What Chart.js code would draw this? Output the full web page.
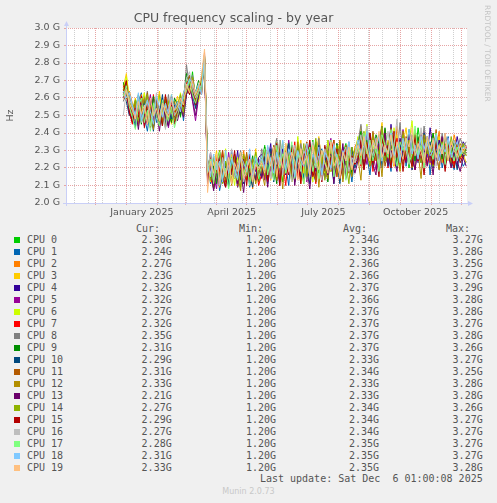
<!DOCTYPE html>
<html>
<head>
<meta charset="utf-8">
<title>CPU frequency scaling - by year</title>
<script src="https://cdn.jsdelivr.net/npm/chart.js@4.4.1/dist/chart.umd.min.js"></script>
<style>
  body { margin: 0; background: #f0f0f0; width: 497px; height: 503px; overflow: hidden; position: relative; color: #555; }
  #chart { position: absolute; left: 0; top: 0; }
  .t { position: absolute; font-family: "DejaVu Sans Mono", monospace; font-size: 10px; line-height: 12px; white-space: pre; }
  .r { text-align: right; }
  .sw { position: absolute; width: 6px; height: 6px; }
  #rrd { position: absolute; left: 482px; top: 5px; writing-mode: vertical-rl; font-family: "DejaVu Sans", sans-serif; font-size: 7.5px; line-height: 10px; color: #c4c4c4; white-space: nowrap; }
  #munin { position: absolute; left: 0; width: 497px; top: 487px; text-align: center; font-family: "DejaVu Sans", sans-serif; font-size: 8px; line-height: 10px; color: #c8c8c8; }
</style>
</head>
<body>
<canvas id="chart" width="497" height="222" style="width:497px;height:222px"></canvas>
<div id="legend"></div>
<div id="rrd">RRDTOOL / TOBI OETIKER</div>
<div id="munin">Munin 2.0.73</div>
<script>
// days counted from 1 Jan 2025, one sample every 3 days from 29 Dec 2024
let startDay = -3;
let stepDays = 3;

// values in 10 MHz steps (252 = 2.52 GHz)
const cpu0 = [265,268,258,248,255,261,246,252,259,243,250,257,262,247,253,244,256,251,258,249,262,270,262,275,259,266,271,284,214,225,208,221,230,216,211,224,219,227,209,218,226,213,222,217,229,212,221,233,218,226,215,230,224,212,228,235,220,217,231,225,214,229,222,236,219,227,216,232,224,218,230,226,213,228,234,221,225,231,228,239,224,233,221,236,230,219,241,227,234,222,238,229,225,240,232,220,235,227,243,231,224,237,229,221,236,233,226,240,228,222,235,230,226,233,230];
const cpu1 = [262,270,255,251,244,258,263,249,241,255,260,246,252,257,243,250,261,248,253,260,247,264,273,261,255,262,268,281,222,211,219,228,207,216,224,213,230,218,210,223,215,227,209,220,214,225,216,227,211,224,232,219,213,228,221,210,233,225,217,229,214,222,235,218,212,226,231,215,223,228,211,234,220,216,229,224,212,227,233,222,238,227,216,231,225,239,220,234,228,218,236,224,230,241,221,233,226,219,237,229,223,238,216,232,227,235,220,229,238,224,219,233,227,221,224];
const cpu2 = [268,261,264,257,249,253,262,245,256,250,243,259,254,247,261,252,246,258,250,257,263,262,270,267,264,258,272,285,218,226,213,221,209,228,217,223,211,225,219,214,230,216,222,208,227,220,225,214,231,220,227,213,236,222,218,229,215,232,226,211,224,233,219,228,214,237,223,217,230,221,226,215,234,220,229,224,218,232,236,225,231,242,228,220,237,233,224,239,227,230,221,244,232,226,235,229,238,222,234,240,227,231,225,236,229,241,223,234,230,226,239,232,227,231,227];
const cpu3 = [266,274,259,252,260,247,255,263,249,244,257,251,264,248,254,259,245,253,261,252,258,268,263,271,260,267,263,282,224,213,220,230,215,226,210,219,228,214,223,217,211,226,221,215,231,218,219,230,224,213,232,221,227,216,234,225,212,229,222,236,217,231,226,214,228,238,220,224,233,218,227,222,235,216,230,225,221,229,231,244,226,235,222,238,229,233,246,224,236,230,221,239,227,234,243,228,223,237,231,226,240,233,222,236,229,238,225,232,227,235,221,230,226,228,223];
const cpu4 = [263,267,256,250,258,245,254,261,247,252,243,256,249,260,244,255,250,246,257,251,260,266,272,264,257,264,269,283,217,229,212,222,214,227,219,210,225,216,230,213,221,227,211,224,218,226,228,217,223,234,214,226,221,231,216,229,224,212,235,220,227,218,232,223,215,230,226,219,236,222,214,228,233,217,225,230,220,227,229,238,224,242,231,226,236,222,240,233,227,245,229,221,237,232,225,241,228,234,223,239,230,226,243,231,224,236,229,240,226,233,227,238,229,235,232];
const cpu5 = [260,265,252,247,255,249,258,244,253,262,248,251,245,257,250,243,255,249,252,259,254,263,269,258,247,260,266,280,211,223,216,208,226,219,213,229,217,222,209,225,214,220,228,212,223,216,222,213,229,218,233,224,210,227,221,236,215,230,224,217,228,212,234,222,219,231,226,214,229,237,220,225,216,232,223,218,230,224,226,237,231,222,240,228,219,235,244,224,232,227,238,221,230,242,226,234,219,237,229,225,241,232,223,236,228,219,234,230,237,224,228,221,233,226,232];
const cpu6 = [264,272,260,254,248,259,252,263,246,256,250,261,244,253,258,249,262,251,255,263,250,265,271,268,262,258,270,284,220,212,227,215,224,218,231,213,222,210,226,219,214,228,216,223,211,221,224,231,216,228,220,235,213,226,232,219,227,214,238,223,218,230,225,212,233,221,228,217,236,224,215,229,234,220,226,231,218,228,238,227,233,245,224,231,236,222,240,229,234,226,243,232,220,237,228,235,247,225,231,238,223,234,229,240,226,232,237,221,235,228,230,225,233,229,227];
const cpu7 = [267,263,253,245,257,251,260,248,255,243,262,250,246,258,253,247,261,254,249,256,262,269,264,272,258,265,262,286,223,214,209,226,218,230,212,221,216,228,211,224,219,213,227,215,222,210,217,226,212,230,221,215,233,224,210,228,219,235,214,226,222,231,216,227,211,234,220,225,213,229,236,218,223,214,231,226,219,224,230,221,239,227,234,218,236,225,231,242,220,233,228,237,223,230,224,241,226,219,235,229,238,222,232,226,240,224,231,220,236,227,222,234,225,229,232];
const cpu8 = [258,266,262,253,246,260,249,255,264,247,252,258,244,256,250,262,248,257,254,261,256,279,266,273,261,268,265,283,216,227,220,213,229,218,224,211,226,215,221,230,214,219,225,212,228,217,231,220,226,214,229,237,218,225,222,232,215,227,220,234,224,213,230,226,219,237,221,228,216,233,225,220,231,214,227,235,222,226,234,245,229,237,223,240,232,226,243,230,221,238,233,227,246,224,235,230,239,222,234,228,244,231,225,237,232,226,240,229,233,223,236,230,237,232,235];
const cpu9 = [269,262,257,256,250,262,245,258,253,247,261,249,255,244,259,252,246,260,256,250,259,274,268,262,263,270,266,282,225,214,221,211,228,217,223,209,226,220,215,229,212,224,218,227,213,222,220,232,215,228,223,211,236,224,218,230,226,213,233,219,227,216,231,222,235,217,228,224,212,230,221,234,218,226,223,232,216,227,232,241,226,236,229,222,239,234,225,243,228,231,237,221,235,230,227,242,233,224,238,229,222,236,231,240,227,233,225,238,230,228,236,224,231,228,231];
const cpu10 = [261,258,250,249,243,256,251,259,246,254,241,257,250,262,245,253,248,256,251,258,253,262,270,265,254,261,268,280,213,222,208,219,227,215,221,210,225,214,219,228,211,223,216,209,226,218,215,226,219,231,212,224,229,217,222,234,213,227,220,215,230,223,211,228,219,233,214,226,221,230,216,224,211,229,222,218,232,220,226,235,221,230,239,224,233,218,236,227,222,241,229,220,234,225,231,238,219,232,227,223,240,228,235,220,230,226,237,221,233,225,229,219,232,226,229];
const cpu11 = [265,260,256,252,258,246,255,250,263,248,253,259,245,256,251,247,260,252,258,253,261,267,273,262,259,266,262,281,219,227,212,224,216,230,213,222,218,226,210,225,217,229,214,221,227,215,223,215,230,221,227,213,234,218,225,229,216,232,222,214,228,235,219,224,212,231,226,218,229,222,236,215,227,220,233,217,225,229,229,238,223,235,227,241,224,232,237,221,230,243,226,234,229,222,238,231,225,240,228,233,222,236,230,227,242,224,232,228,235,221,229,234,226,230,231];
const cpu12 = [262,269,254,250,257,244,253,260,248,255,242,258,251,246,261,249,254,247,254,260,251,263,269,266,258,265,270,283,215,224,208,220,229,212,218,226,210,223,216,207,227,219,213,225,211,221,218,210,228,222,233,214,225,208,230,219,226,213,235,221,211,229,224,216,232,209,227,220,214,231,223,217,236,212,228,221,215,230,226,213,237,229,221,240,225,232,215,238,227,222,234,229,218,241,226,233,220,236,229,214,239,231,224,235,228,219,237,225,232,223,230,227,234,229,233];
const cpu13 = [260,266,251,248,254,242,257,250,245,259,247,253,241,256,249,244,258,250,247,255,249,262,267,259,250,262,267,279,212,221,207,218,226,214,209,223,216,228,211,219,206,224,215,220,213,225,214,223,209,227,218,231,212,224,217,221,233,210,226,215,229,220,208,225,218,232,213,222,216,228,211,226,219,234,214,221,225,217,224,233,219,229,237,222,216,234,227,240,221,230,225,218,236,228,223,239,226,219,232,224,237,221,229,216,234,226,238,222,228,220,231,224,218,226,221];
const cpu14 = [266,263,258,253,259,247,256,251,262,245,254,260,249,255,243,258,252,248,255,262,252,268,264,272,261,267,264,284,221,213,226,217,230,211,224,219,214,227,222,209,228,216,223,212,229,218,226,216,232,221,214,229,224,235,217,227,212,231,223,219,234,215,228,222,237,218,225,213,230,226,220,233,216,229,224,211,232,225,235,226,241,230,222,237,233,228,244,224,231,238,226,234,220,239,229,236,225,242,231,223,237,228,233,221,240,227,235,230,224,238,229,232,226,234,227];
const cpu15 = [263,270,252,246,254,249,261,243,257,251,247,259,253,244,262,250,256,245,251,257,255,266,262,270,256,263,269,282,214,226,211,220,228,216,209,223,218,230,213,221,225,210,227,217,222,215,221,230,213,225,218,234,210,227,222,216,232,219,226,211,229,224,236,215,221,228,212,233,220,226,217,231,214,224,229,219,227,222,225,236,219,231,240,223,229,215,238,227,233,220,241,226,232,218,235,228,221,239,224,230,216,237,229,222,236,225,231,218,234,226,220,230,223,227,229];
const cpu16 = [250,264,259,255,249,261,246,253,258,244,251,263,248,256,242,254,260,250,253,258,262,271,275,266,260,264,268,281,218,229,213,224,210,226,217,221,231,214,222,227,212,219,225,216,223,220,225,219,231,214,227,222,236,216,229,221,212,233,224,218,230,226,215,235,220,227,213,231,225,219,234,222,216,228,232,218,226,223,230,239,225,244,232,227,237,221,234,229,241,226,233,248,224,236,230,222,238,231,227,243,225,234,229,237,221,232,228,240,226,231,236,224,230,228,227];
const cpu17 = [261,267,255,249,242,255,260,246,253,241,257,250,244,259,252,247,255,243,250,256,260,264,270,262,257,263,267,282,217,225,211,222,229,214,220,208,226,218,213,228,216,224,210,221,227,214,222,231,216,226,213,233,220,228,217,224,235,214,229,221,211,227,232,218,225,214,230,223,219,236,215,228,222,226,213,231,220,227,232,222,240,228,236,224,231,218,239,233,226,242,229,221,235,230,237,223,228,244,226,233,220,238,231,225,240,228,234,222,236,229,224,232,227,230,228];
const cpu18 = [264,260,263,256,250,263,247,254,259,252,245,261,255,249,257,251,262,253,258,252,263,266,271,268,263,268,262,285,221,215,228,219,224,212,230,217,225,220,214,227,223,218,231,213,226,222,227,220,233,224,217,229,222,236,219,231,226,215,230,224,221,234,218,228,223,232,216,229,225,220,233,227,218,230,224,235,221,228,236,228,233,241,226,235,231,238,224,232,229,240,227,234,223,237,230,242,228,233,225,238,231,236,227,230,239,224,233,229,237,226,231,235,228,232,231];
const cpu19 = [259,265,257,253,248,258,251,256,245,260,250,254,247,257,252,249,259,253,255,260,256,268,263,270,262,266,273,288,206,224,217,228,213,221,215,226,211,223,218,229,214,220,225,212,222,219,223,217,228,221,232,215,226,220,234,218,229,224,213,231,222,227,216,233,225,219,230,223,217,235,221,226,214,229,224,232,219,227,233,227,238,230,224,236,231,241,226,233,228,239,222,235,230,225,237,232,243,227,234,229,223,238,231,236,226,233,228,240,224,235,230,227,233,229,233];
const series = [cpu0,cpu1,cpu2,cpu3,cpu4,cpu5,cpu6,cpu7,cpu8,cpu9,cpu10,cpu11,cpu12,cpu13,cpu14,cpu15,cpu16,cpu17,cpu18,cpu19];

const cpuNames = ['CPU 0','CPU 1','CPU 2','CPU 3','CPU 4','CPU 5','CPU 6','CPU 7','CPU 8','CPU 9','CPU 10','CPU 11','CPU 12','CPU 13','CPU 14','CPU 15','CPU 16','CPU 17','CPU 18','CPU 19'];
const curValues = ['2.30G','2.24G','2.27G','2.23G','2.32G','2.32G','2.27G','2.32G','2.35G','2.31G','2.29G','2.31G','2.33G','2.21G','2.27G','2.29G','2.27G','2.28G','2.31G','2.33G'];
const minValues = ['1.20G','1.20G','1.20G','1.20G','1.20G','1.20G','1.20G','1.20G','1.20G','1.20G','1.20G','1.20G','1.20G','1.20G','1.20G','1.20G','1.20G','1.20G','1.20G','1.20G'];
const avgValues = ['2.34G','2.33G','2.36G','2.36G','2.37G','2.36G','2.37G','2.37G','2.37G','2.37G','2.33G','2.34G','2.33G','2.33G','2.34G','2.34G','2.34G','2.35G','2.35G','2.35G'];
const maxValues = ['3.27G','3.28G','3.25G','3.27G','3.29G','3.28G','3.28G','3.27G','3.28G','3.26G','3.27G','3.25G','3.28G','3.28G','3.26G','3.27G','3.27G','3.27G','3.27G','3.28G'];

// x axis: month starts (major grid), every other Sunday (minor grid), quarter labels mid-month
const monthStarts = [-31,0,31,59,90,120,151,181,212,243,273,304,334];
const weekLines = [-52,-38,-24,-10,4,18,32,46,60,74,88,102,116,130,144,158,172,186,200,214,228,242,256,270,284,298,312,326];
const labelDays = [15.5,105,196.5,288.5];
const labelTexts = ['January 2025','April 2025','July 2025','October 2025'];

const colors = ['#00CC00','#0066B3','#FF8000','#FFCC00','#330099','#990099','#CCFF00','#FF0000','#808080','#008F00','#00487D','#B35A00','#B38F00','#6B006B','#8FB300','#B30000','#BEBEBE','#80FF80','#80C9FF','#FFC080'];

const majorGrid = '#e6a4a4';
const minorGrid = '#cfcfcf';
const axisColor = '#c9cff7';
const textColor = '#555555';

Chart.defaults.font.family = 'DejaVu Sans';

let datasets = series.map((vals, i) => ({
    label: cpuNames[i],
    data: vals.map((v, k) => ({ x: startDay + k * stepDays, y: v / 100 })),
    borderColor: colors[i],
    backgroundColor: colors[i],
    borderWidth: 1,
    pointRadius: 0,
    tension: 0,
    fill: false,
    order: 19 - i // CPU 19 painted last, like rrdtool
}));

// white canvas behind the plot, like rrdtool
const canvasBg = {
    id: 'canvasBg',
    beforeDraw(chart) {
        let a = chart.chartArea;
        chart.ctx.save();
        chart.ctx.fillStyle = '#ffffff';
        chart.ctx.fillRect(a.left, a.top, a.right - a.left, a.bottom - a.top);
        chart.ctx.restore();
    }
};

// axis lines with the small arrow heads
const rrdAxes = {
    id: 'rrdAxes',
    beforeDatasetsDraw(chart) {
        let ctx = chart.ctx;
        let a = chart.chartArea;
        ctx.save();
        ctx.strokeStyle = axisColor;
        ctx.fillStyle = axisColor;
        ctx.lineWidth = 1;
        ctx.beginPath();
        ctx.moveTo(a.left + 0.5, a.bottom + 3);
        ctx.lineTo(a.left + 0.5, a.top - 4);
        ctx.moveTo(a.left - 3, a.bottom + 0.5);
        ctx.lineTo(a.right + 2, a.bottom + 0.5);
        ctx.stroke();
        ctx.beginPath();
        ctx.moveTo(a.left - 2, a.top - 2);
        ctx.lineTo(a.left + 3, a.top - 2);
        ctx.lineTo(a.left + 0.5, a.top - 7);
        ctx.closePath();
        ctx.fill();
        ctx.beginPath();
        ctx.moveTo(a.right + 1, a.bottom - 2);
        ctx.lineTo(a.right + 1, a.bottom + 3);
        ctx.lineTo(a.right + 6, a.bottom + 0.5);
        ctx.closePath();
        ctx.fill();
        ctx.restore();
    }
};

let chart = new Chart(document.getElementById('chart'), {
    type: 'line',
    data: { datasets: datasets },
    plugins: [canvasBg, rrdAxes],
    options: {
        responsive: false,
        animation: false,
        events: [],
        layout: { padding: { left: 0, right: 30, top: 0, bottom: 0 } },
        plugins: {
            legend: { display: false },
            tooltip: { enabled: false },
            title: {
                display: true,
                text: 'CPU frequency scaling - by year',
                color: textColor,
                font: { family: 'DejaVu Sans', size: 12.5, weight: 'normal', lineHeight: '14px' },
                padding: { top: 12, bottom: 2 }
            }
        },
        scales: {
            x: {
                type: 'linear',
                min: -60.2,
                max: 339.8,
                afterBuildTicks(scale) {
                    let all = weekLines.concat(monthStarts, labelDays);
                    scale.ticks = all.sort((p, q) => p - q).map(v => ({ value: v }));
                },
                afterFit(scale) { scale.height = 19; },
                ticks: {
                    autoSkip: false,
                    maxRotation: 0,
                    minRotation: 0,
                    padding: 2,
                    color: textColor,
                    font: { size: 9.5 },
                    callback(value) {
                        let k = labelDays.indexOf(value);
                        return k >= 0 ? labelTexts[k] : '';
                    }
                },
                grid: {
                    lineWidth: 1,
                    tickLength: 2,
                    color(c) {
                        let v = c.tick ? c.tick.value : null;
                        if (monthStarts.includes(v)) return majorGrid;
                        if (weekLines.includes(v)) return minorGrid;
                        return 'rgba(0,0,0,0)';
                    },
                    tickColor(c) {
                        let v = c.tick ? c.tick.value : null;
                        return monthStarts.includes(v) ? majorGrid : 'rgba(0,0,0,0)';
                    }
                },
                border: { display: false, dash: [1, 1] }
            },
            y: {
                min: 2.0,
                max: 3.0,
                afterFit(scale) { scale.width = 66; },
                ticks: {
                    stepSize: 0.1,
                    padding: 4,
                    color: textColor,
                    font: { size: 9.5 },
                    callback: (value) => value.toFixed(1) + ' G'
                },
                grid: { color: majorGrid, lineWidth: 1, tickLength: 2 },
                border: { display: false, dash: [1, 1] },
                title: {
                    display: true,
                    text: 'Hz',
                    color: textColor,
                    font: { size: 9.5 },
                    padding: { top: 5, bottom: 0 }
                }
            }
        }
    }
});

// legend table under the graph
function addText(text, left, right, top, cls) {
    let el = document.createElement('div');
    el.className = 't' + (cls ? ' ' + cls : '');
    el.textContent = text;
    if (left !== null) el.style.left = left + 'px';
    if (right !== null) el.style.right = right + 'px';
    el.style.top = top + 'px';
    document.getElementById('legend').appendChild(el);
}

addText('Cur:', null, 337, 222.5, 'r');
addText('Min:', null, 234, 222.5, 'r');
addText('Avg:', null, 130, 222.5, 'r');
addText('Max:', null, 27, 222.5, 'r');

cpuNames.forEach((name, i) => {
    let top = 233.5 + 12 * i;
    let sw = document.createElement('div');
    sw.className = 'sw';
    sw.style.left = '14px';
    sw.style.top = (top + 3) + 'px';
    sw.style.background = colors[i];
    document.getElementById('legend').appendChild(sw);
    addText(name, 27, null, top);
    addText(curValues[i], null, 325.3, top, 'r');
    addText(minValues[i], null, 221, top, 'r');
    addText(avgValues[i], null, 118, top, 'r');
    addText(maxValues[i], null, 14.3, top, 'r');
});

addText('Last update: Sat Dec  6 01:00:08 2025', null, 14.3, 473.2, 'r');
</script>
</body>
</html>
